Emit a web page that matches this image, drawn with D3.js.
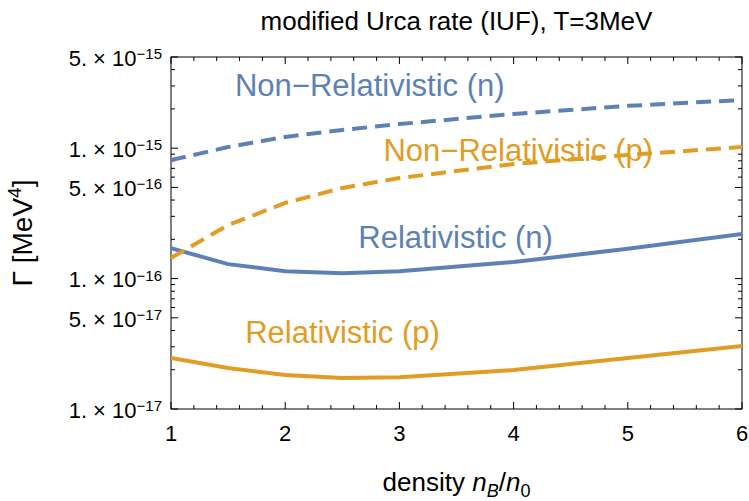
<!DOCTYPE html>
<html>
<head>
<meta charset="utf-8">
<script src="https://cdn.jsdelivr.net/npm/d3@7"></script>
<style>
    body { margin: 0; background: white; }
    text { font-family: "Liberation Sans", Arial, sans-serif; }
    .frame { fill: none; stroke: #000; stroke-width: 1; }
    .tick-mark { stroke: #000; stroke-width: 1; }
    .tick-label { font-size: 22px; fill: #000; }
    .title { font-size: 26px; fill: #000; text-anchor: middle; }
    .axis-title { font-size: 26px; fill: #000; text-anchor: middle; }
    .curve { fill: none; stroke-width: 4; }
    .curve-label { font-size: 31px; }
</style>
</head>
<body>
<div id="chart"></div>
<script>
////////////////////////////////////////////////////////////// 
////////////////////////// Data ////////////////////////////// 
////////////////////////////////////////////////////////////// 

//Density grid (n_B / n_0)
const density = [1, 1.5, 2, 2.5, 3, 4, 5, 6]

//Rates Γ in MeV^4
const relN = [1.71e-16, 1.29e-16, 1.14e-16, 1.10e-16, 1.14e-16, 1.34e-16, 1.69e-16, 2.20e-16]
const relP = [2.46e-17, 2.06e-17, 1.82e-17, 1.73e-17, 1.75e-17, 1.99e-17, 2.46e-17, 3.04e-17]
const nonRelN = [8.1e-16, 1.02e-15, 1.22e-15, 1.38e-15, 1.53e-15, 1.83e-15, 2.11e-15, 2.34e-15]
const nonRelP = [1.44e-16, 2.57e-16, 3.80e-16, 4.95e-16, 5.90e-16, 7.56e-16, 8.86e-16, 1.02e-15]

//Axis ticks
const xMajorTicks = [1, 2, 3, 4, 5, 6]
const yMajorTicks = [1e-17, 5e-17, 1e-16, 5e-16, 1e-15, 5e-15]

//Curve labels
const seriesNames = ["Relativistic (n)", "Relativistic (p)", "Non\u2212Relativistic (n)", "Non\u2212Relativistic (p)"]

//Colors (Mathematica defaults)
const blue = "#5e81b5"
const orange = "#e19c24"

////////////////////////////////////////////////////////////// 
//////////////////////// Create SVG ////////////////////////// 
////////////////////////////////////////////////////////////// 

const totalWidth = 749
const totalHeight = 501
const margin = { top: 57, right: 7, bottom: 92, left: 171 }
const width = totalWidth - margin.left - margin.right
const height = totalHeight - margin.top - margin.bottom

const svg = d3.select("#chart")
    .append("svg")
    .attr("width", totalWidth)
    .attr("height", totalHeight)

const g = svg.append("g")
    .attr("transform", "translate(" + margin.left + "," + margin.top + ")")

//////////////////////////////////////////////////////////////
////////////////////// Create scales /////////////////////////
//////////////////////////////////////////////////////////////

const xScale = d3.scaleLinear()
    .domain([1, 6])
    .range([0, width])

const yScale = d3.scaleLog()
    .domain([1e-17, 5e-15])
    .range([height, 0])

//////////////////////////////////////////////////////////////
////////////////////////// Frame /////////////////////////////
//////////////////////////////////////////////////////////////

g.append("rect")
    .attr("class", "frame")
    .attr("width", width)
    .attr("height", height)

//Minor ticks: 0.2 steps on x, 1..9 per decade on y
const xMinorTicks = d3.range(1, 6.001, 0.2).filter(d => Math.abs(d - Math.round(d)) > 1e-6)
const yMinorTicks = yScale.ticks().filter(d => {
    const m = Math.round(d / Math.pow(10, Math.floor(Math.log10(d) + 1e-9)))
    return m !== 1 && m !== 5
})

const majorLen = 7
const minorLen = 4

const ticks = g.append("g").attr("class", "tick-group")

//Bottom and top
const xTickData = xMajorTicks.map(d => ({ v: d, len: majorLen }))
    .concat(xMinorTicks.map(d => ({ v: d, len: minorLen })))
ticks.selectAll(".x-bottom")
    .data(xTickData)
    .enter().append("line")
    .attr("class", "tick-mark")
    .attr("x1", d => xScale(d.v)).attr("x2", d => xScale(d.v))
    .attr("y1", height).attr("y2", d => height - d.len)
ticks.selectAll(".x-top")
    .data(xTickData)
    .enter().append("line")
    .attr("class", "tick-mark")
    .attr("x1", d => xScale(d.v)).attr("x2", d => xScale(d.v))
    .attr("y1", 0).attr("y2", d => d.len)

//Left and right
const yTickData = yMajorTicks.map(d => ({ v: d, len: majorLen }))
    .concat(yMinorTicks.map(d => ({ v: d, len: minorLen })))
ticks.selectAll(".y-left")
    .data(yTickData)
    .enter().append("line")
    .attr("class", "tick-mark")
    .attr("y1", d => yScale(d.v)).attr("y2", d => yScale(d.v))
    .attr("x1", 0).attr("x2", d => d.len)
ticks.selectAll(".y-right")
    .data(yTickData)
    .enter().append("line")
    .attr("class", "tick-mark")
    .attr("y1", d => yScale(d.v)).attr("y2", d => yScale(d.v))
    .attr("x1", width).attr("x2", d => width - d.len)

//////////////////////////////////////////////////////////////
/////////////////////// Tick labels //////////////////////////
//////////////////////////////////////////////////////////////

g.selectAll(".x-label")
    .data(xMajorTicks)
    .enter().append("text")
    .attr("class", "tick-label")
    .attr("x", d => xScale(d))
    .attr("y", height + 32)
    .attr("text-anchor", "middle")
    .text(d => d)

const yLabels = g.selectAll(".y-label")
    .data(yMajorTicks)
    .enter().append("text")
    .attr("class", "tick-label")
    .attr("x", -9)
    .attr("y", d => yScale(d))
    .attr("dy", "0.4em")
    .attr("text-anchor", "end")

yLabels.append("tspan")
    .text(d => {
        const e = Math.floor(Math.log10(d) + 1e-9)
        return Math.round(d / Math.pow(10, e)) + ". \u00d7 10"
    })
yLabels.append("tspan")
    .attr("dy", "-0.45em")
    .style("font-size", "15px")
    .text(d => "\u2212" + (-Math.floor(Math.log10(d) + 1e-9)))

//////////////////////////////////////////////////////////////
////////////////////////// Titles ////////////////////////////
//////////////////////////////////////////////////////////////

svg.append("text")
    .attr("class", "title")
    .attr("x", margin.left + width / 2)
    .attr("y", 30)
    .text("modified Urca rate (IUF), T=3MeV")

const xTitle = svg.append("text")
    .attr("class", "axis-title")
    .attr("x", margin.left + width / 2)
    .attr("y", 491)
xTitle.append("tspan").text("density ")
xTitle.append("tspan").style("font-style", "italic").text("n")
xTitle.append("tspan").attr("dy", 6).style("font-size", "18px").style("font-style", "italic").text("B")
xTitle.append("tspan").attr("dy", -6).text("/")
xTitle.append("tspan").style("font-style", "italic").text("n")
xTitle.append("tspan").attr("dy", 6).style("font-size", "18px").text("0")

const yTitle = svg.append("text")
    .attr("class", "axis-title")
    .style("font-size", "28px")
    .attr("transform", "translate(32," + (margin.top + height / 2) + ") rotate(-90)")
yTitle.append("tspan").text("\u0393 [MeV")
yTitle.append("tspan").attr("dy", -11).style("font-size", "19px").text("4")
yTitle.append("tspan").attr("dy", 11).text("]")

//////////////////////////////////////////////////////////////
////////////////////////// Curves ////////////////////////////
//////////////////////////////////////////////////////////////

const line = d3.line()
    .x(d => xScale(d[0]))
    .y(d => yScale(d[1]))

const series = [
    { name: seriesNames[0], values: relN, color: blue, dash: null },
    { name: seriesNames[1], values: relP, color: orange, dash: null },
    { name: seriesNames[2], values: nonRelN, color: blue, dash: "15,8" },
    { name: seriesNames[3], values: nonRelP, color: orange, dash: "15,8" }
]

g.append("clipPath").attr("id", "clip-plot")
    .append("rect").attr("width", width).attr("height", height)

const curves = g.append("g").attr("class", "curve-group")
    .attr("clip-path", "url(#clip-plot)")

curves.selectAll(".curve")
    .data(series)
    .enter().append("path")
    .attr("class", "curve")
    .attr("d", d => line(d.values.map((v, i) => [density[i], v])))
    .style("stroke", d => d.color)
    .style("stroke-dasharray", d => d.dash)

//////////////////////////////////////////////////////////////
/////////////////////// Curve labels /////////////////////////
//////////////////////////////////////////////////////////////

//Label anchors in data space (left edge of text)
const labelPos = [[2.64, 2.06e-16], [1.65, 3.85e-17], [1.56, 3.05e-15], [2.86, 0.965e-15]]

g.selectAll(".curve-label")
    .data(series)
    .enter().append("text")
    .attr("class", "curve-label")
    .attr("x", (d, i) => xScale(labelPos[i][0]))
    .attr("y", (d, i) => yScale(labelPos[i][1]))
    .attr("dy", "0.35em")
    .style("fill", d => d.color)
    .text(d => d.name)
</script>
</body>
</html>
